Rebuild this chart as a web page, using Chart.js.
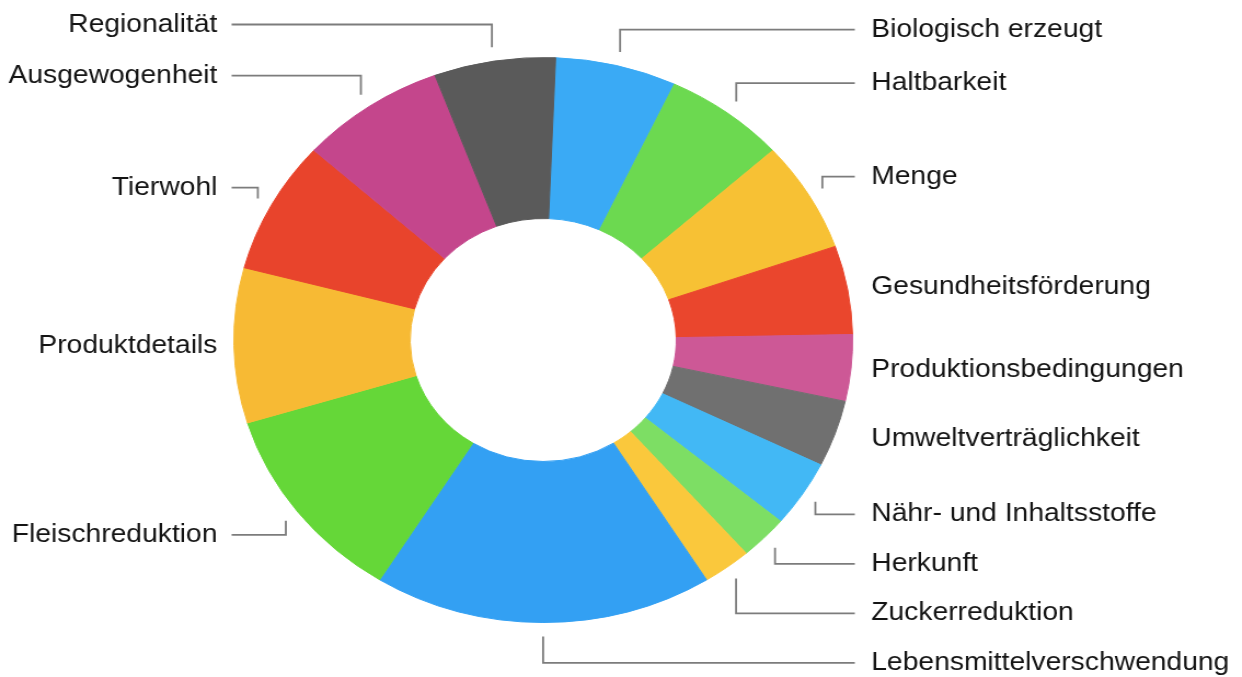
<!DOCTYPE html>
<html>
<head>
<meta charset="utf-8">
<script src="https://cdn.jsdelivr.net/npm/chart.js@4"></script>
<style>
  html, body { margin: 0; padding: 0; background: #fff; overflow: hidden; }
  #wrap { width: 1242px; height: 677px; }
  /* the whole drawing is a bit wider than tall */
  #donut { transform: scaleX(1.0952); transform-origin: 0 0; }
</style>
</head>
<body>
<div id="wrap"><canvas id="donut" width="1134" height="677"></canvas></div>
<script>
const categories = [
  "Biologisch erzeugt", "Haltbarkeit", "Menge", "Gesundheitsförderung",
  "Produktionsbedingungen", "Umweltverträglichkeit", "Nähr- und Inhaltsstoffe",
  "Herkunft", "Zuckerreduktion", "Lebensmittelverschwendung", "Fleischreduktion",
  "Produktdetails", "Tierwohl", "Ausgewogenheit", "Regionalität"
];
const mentions = [5, 5, 5, 4, 3, 3, 3, 2, 2, 14, 9, 7, 6, 6, 5];
const sliceColors = [
  "#3aaaf5", "#6cd950", "#f7c134", "#ea462d", "#cd5896", "#707070", "#42b8f5",
  "#7dde64", "#fac83c", "#33a0f3", "#65d738", "#f7ba34", "#e8442c", "#c4468c", "#5a5a5a"
];

// labels sit left/right of the ring, joined by elbow lines when they can't sit right beside their slice
const sideLabels = {
  id: "sideLabels",
  afterDraw(chart) {
    const ctx = chart.ctx;
    const arcs = chart.getDatasetMeta(0).data;
    const gap = 49.5;
    const items = arcs.map((arc, i) => {
      const mid = (arc.startAngle + arc.endAngle) / 2;
      const R = arc.outerRadius;
      const c = Math.cos(mid), s = Math.sin(mid);
      const ax = arc.x + (R + 14) * c;
      const ay = arc.y + (R + 14) * s;
      const direct = Math.abs(c) > 0.93;
      return {
        text: categories[i], right: c > -0.05, ax, ay, direct,
        y: direct ? ay : arc.y + (R + 37) * s,
        cx: arc.x, cy: arc.y, R
      };
    });

    [true, false].forEach(side => {
      const group = items.filter(it => it.right === side);
      const lower = group.filter(it => it.y >= it.cy).sort((a, b) => a.y - b.y);
      const upper = group.filter(it => it.y < it.cy).sort((a, b) => b.y - a.y);
      for (let i = 1; i < lower.length; i++) {
        lower[i].y = Math.max(lower[i].y, lower[i - 1].y + gap);
      }
      for (let i = 1; i < upper.length; i++) {
        upper[i].y = Math.min(upper[i].y, upper[i - 1].y - gap);
      }
    });

    ctx.save();
    ctx.strokeStyle = "#7c7c7c";
    ctx.lineWidth = 1.8;
    ctx.font = '25.8px "Liberation Sans", Arial, sans-serif';
    ctx.fillStyle = "#141414";
    ctx.textBaseline = "middle";
    items.forEach(it => {
      if (!it.direct) {
        const endX = it.right ? it.cx + it.R + 2 : it.cx - it.R - 2;
        ctx.beginPath();
        ctx.moveTo(it.ax, it.ay);
        ctx.lineTo(it.ax, it.y);
        ctx.lineTo(endX, it.y);
        ctx.stroke();
      }
      ctx.textAlign = it.right ? "left" : "right";
      const tx = it.right ? it.cx + it.R + 17 : it.cx - it.R - 15;
      ctx.fillText(it.text, tx, it.y);
    });
    ctx.restore();
  }
};

const canvas = document.getElementById("donut");
new Chart(canvas, {
  type: "doughnut",
  data: {
    labels: categories,
    datasets: [{
      data: mentions,
      backgroundColor: sliceColors,
      borderColor: sliceColors,
      borderWidth: 1
    }]
  },
  options: {
    responsive: false,
    animation: false,
    rotation: 2.3,
    cutout: "43%",
    layout: { padding: { left: 213, right: 355, top: 57, bottom: 54 } },
    plugins: {
      legend: { display: false },
      tooltip: { enabled: false }
    }
  },
  plugins: [sideLabels]
});
</script>
</body>
</html>
